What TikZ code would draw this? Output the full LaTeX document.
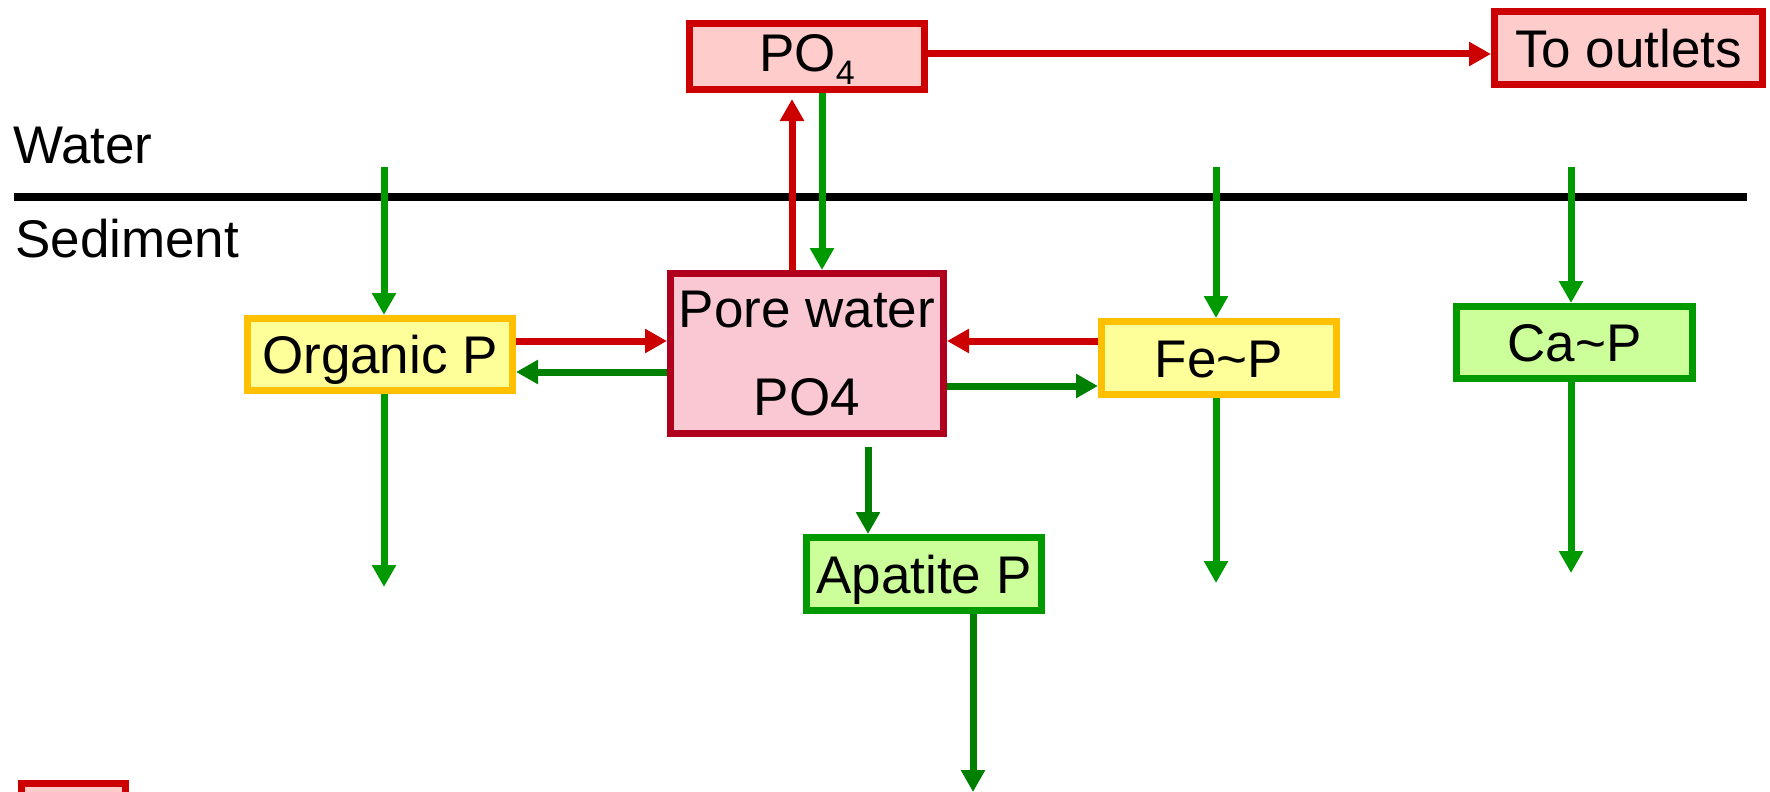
\documentclass[tikz,border=0pt]{standalone}
\usepackage{fontspec}
\setmainfont{Liberation Sans}
\usetikzlibrary{arrows.meta}
\definecolor{pred}{HTML}{CC0000}
\definecolor{ppink}{HTML}{FFCCCC}
\definecolor{pwline}{HTML}{B0001E}
\definecolor{pwfill}{HTML}{F9C8D2}
\definecolor{yline}{HTML}{FFC000}
\definecolor{yfill}{HTML}{FFFF99}
\definecolor{gline}{HTML}{009900}
\definecolor{gfill}{HTML}{CCFF99}
\definecolor{gdark}{HTML}{008000}
\begin{document}
\begin{tikzpicture}[x=1pt,y=-1pt,
  bigfont/.style={font=\fontsize{53}{88}\selectfont},
  box/.style={draw, line width=7pt, inner sep=0pt, bigfont, text height=38pt, text depth=0pt},
  redbox/.style={box, draw=pred, fill=ppink},
  yelbox/.style={box, draw=yline, fill=yfill},
  grnbox/.style={box, draw=gline, fill=gfill},
  pwbox/.style={draw=pwline, fill=pwfill, line width=7pt, inner sep=0pt, bigfont, align=center},
  arr/.style={line width=7pt, -{Triangle[length=22pt,width=23pt]}},
  lbl/.style={bigfont, inner sep=0pt, anchor=base west}
]
\useasboundingbox (0,0) rectangle (1770,792);
\clip (0,0) rectangle (1770,792);

% separator
\coordinate (sepL) at (14,197);
\coordinate (sepR) at (1747,197);
\draw[line width=8pt] (sepL) -- (sepR);
\node[lbl] (water) at (13,163) {Water};
\node[lbl] (sed) at (15,257) {Sediment};

% boxes
\node[redbox, minimum width=235pt, minimum height=66pt, text height=31pt] (po4) at (807,56.5) {PO\raisebox{-13pt}{\fontsize{34}{34}\selectfont 4}};
\node[redbox, minimum width=268pt, minimum height=73pt] (out) at (1628.5,48) {To outlets};
\node[yelbox, minimum width=265pt, minimum height=72pt] (org) at (380,354.5) {Organic P};
\node[pwbox, minimum width=273pt, minimum height=160pt] (pw) at (807,353.5) {Pore water\\PO4};
\node[yelbox, minimum width=235pt, minimum height=73pt] (fe) at (1219,358) {Fe\char`\~P};
\node[grnbox, minimum width=236pt, minimum height=72pt] (ca) at (1574.5,342.5) {Ca\char`\~P};
\node[grnbox, minimum width=235pt, minimum height=73pt] (apa) at (924,574) {Apatite P};
\node[redbox, minimum width=104pt, minimum height=60pt, anchor=north west] (leg) at (18,780) {};

% free ends
\coordinate (w1) at (384,167);
\coordinate (w2) at (1216,167);
\coordinate (w3) at (1571,167);
\coordinate (e1) at (384,587);
\coordinate (e2) at (1216,583);
\coordinate (e3) at (1571,573);
\coordinate (e4) at (973,792);
\coordinate (xr) at (792,0);
\coordinate (xg) at (822,0);
\coordinate (xa) at (868,0);
\coordinate (y1) at (0,341);
\coordinate (y2) at (0,372);
\coordinate (y3) at (0,386);
\coordinate (y4) at (0,54);

% water column to sediment
\draw[arr, gline] (w1) -- (org.north -| w1);
\draw[arr, gline] (w2) -- (fe.north -| w2);
\draw[arr, gline] (w3) -- (ca.north -| w3);

% burial
\draw[arr, gline] (org.south -| e1) -- (e1);
\draw[arr, gline] (fe.south -| e2) -- (e2);
\draw[arr, gline] (ca.south -| e3) -- (e3);
\draw[arr, gdark] (apa.south -| e4) -- (e4);

% PO4 exchange
\draw[arr, pred, shorten >=6pt] (pw.north -| xr) -- (po4.south -| xr);
\draw[arr, gline] (po4.south -| xg) -- (pw.north -| xg);
\draw[arr, pred] (po4.east |- y4) -- (out.west |- y4);

% horizontal exchange
\draw[arr, pred] (org.east |- y1) -- (pw.west |- y1);
\draw[arr, gdark] (pw.west |- y2) -- (org.east |- y2);
\draw[arr, pred] (fe.west |- y1) -- (pw.east |- y1);
\draw[arr, gdark] (pw.east |- y3) -- (fe.west |- y3);

% to apatite
\draw[arr, gdark, shorten <=10pt] (pw.south -| xa) -- (apa.north -| xa);
\end{tikzpicture}
\end{document}
